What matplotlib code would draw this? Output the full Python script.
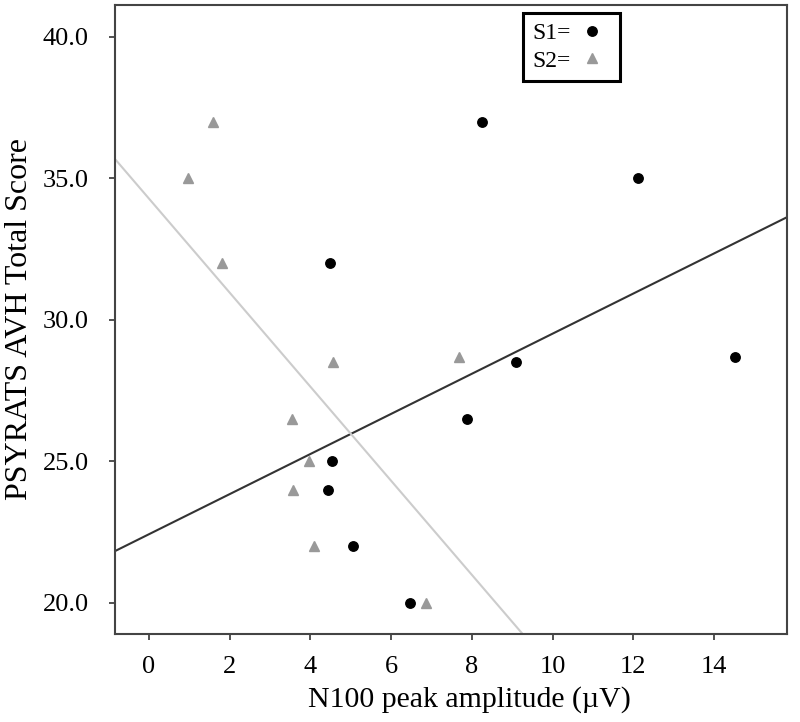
import matplotlib
matplotlib.use("Agg")
import matplotlib.pyplot as plt
import numpy as np
from matplotlib.ticker import FormatStrFormatter

# N100 peak amplitude (uV) per subject, session 1 and session 2
s1_amp = [8.25, 12.12, 4.48, 9.09, 14.52, 7.88, 4.53, 4.43, 5.05, 6.47]
s1_score = [37.0, 35.0, 32.0, 28.5, 28.7, 26.5, 25.0, 24.0, 22.0, 20.0]
s2_amp = [1.59, 0.97, 1.81, 4.56, 7.68, 3.54, 3.96, 3.57, 4.09, 6.86]
s2_score = [37.0, 35.0, 32.0, 28.5, 28.7, 26.5, 25.0, 24.0, 22.0, 20.0]

x_ticks = [0, 2, 4, 6, 8, 10, 12, 14]
y_ticks = [20, 25, 30, 35, 40]

plt.rcParams["font.family"] = ["Liberation Serif", "DejaVu Serif"]

fig = plt.figure(figsize=(8.0, 7.22), dpi=100)
ax = fig.add_axes([115 / 800, 88 / 722, 672 / 800, 629 / 722])

xlim = (-0.84, 15.81)

# regression lines for each session
for amp, score, col in [(s1_amp, s1_score, "#333333"), (s2_amp, s2_score, "#cccccc")]:
    slope, icpt = np.polyfit(amp, score, 1)
    xs = np.array(xlim)
    ax.plot(xs, slope * xs + icpt, color=col, lw=1.5, zorder=1)

ax.plot(s1_amp, s1_score, "o", color="black", ms=6.8, label="S1=", zorder=3)
ax.plot(s2_amp, s2_score, "^", color="#999999", ms=7, label="S2=", zorder=3)

ax.set_xlim(*xlim)
ax.set_ylim(18.9, 41.13)
ax.set_xticks(x_ticks)
ax.set_yticks(y_ticks)
ax.yaxis.set_major_formatter(FormatStrFormatter("%.1f"))
ax.tick_params(labelsize=19, length=4, width=1.2, color="#333333")
ax.tick_params(axis="x", pad=12)
ax.tick_params(axis="y", pad=15)

for sp in ax.spines.values():
    sp.set_color("#444444")
    sp.set_linewidth(1.5)

ax.set_xlabel("N100 peak amplitude (\u00b5V)", fontsize=21.5, labelpad=5)
ax.xaxis.set_label_coords(0.528, -0.083)
ax.set_ylabel("PSYRATS AVH Total Score", fontsize=23, labelpad=6)

leg = ax.legend(loc="upper center", bbox_to_anchor=(0.679, 0.987), markerfirst=False,
                fancybox=False, edgecolor="black", fontsize=17, handlelength=1.6,
                handletextpad=0.1, borderpad=0.4, labelspacing=0.25, borderaxespad=0,
                framealpha=1)
leg.get_frame().set_linewidth(2.2)

fig.savefig("out.png", dpi=100)
